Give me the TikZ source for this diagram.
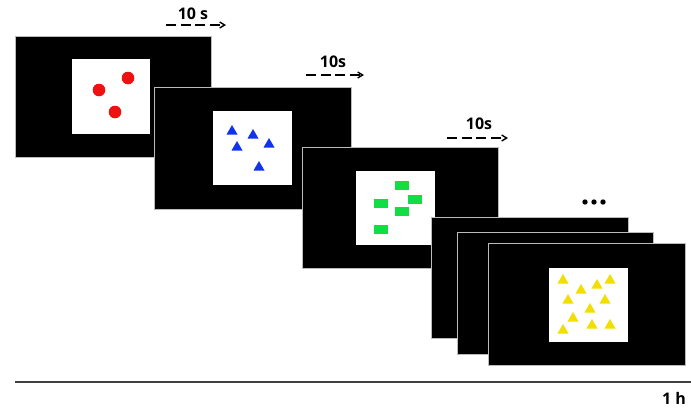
\documentclass[tikz,border=0pt]{standalone}
\usepackage{fontspec}
\setmainfont{Open Sans}
\usetikzlibrary{arrows.meta}
\definecolor{dotred}{HTML}{EE1111}
\definecolor{triblue}{HTML}{1133EE}
\definecolor{recgreen}{HTML}{11DD44}
\definecolor{triyel}{HTML}{F2DE00}
\definecolor{edgegray}{HTML}{BBBBBB}
\tikzset{
  screen/.style={fill=black, draw=edgegray, line width=0.8pt},
  panel/.style={fill=white, draw=none},
  lbl/.style={font=\bfseries\fontsize{16}{16}\selectfont, inner sep=0pt},
  timearrow/.style={line width=1.4pt, dash pattern=on 10pt off 4.5pt, -{Straight Barb[length=5pt,width=6pt]}},
  reddot/.style={fill=dotred, draw=none},
  btri/.style={fill=triblue, draw=none},
  grect/.style={fill=recgreen, draw=none},
  ytri/.style={fill=triyel, draw=none},
}
\newcommand{\tri}[3]{\fill[#1] (#2-5.5,#3+4.5) -- (#2+5.5,#3+4.5) -- (#2,#3-5) -- cycle;}
\newcommand{\grn}[2]{\fill[grect] (#1-7,#2-4.5) rectangle (#1+7,#2+4.5);}
\begin{document}
\begin{tikzpicture}[x=1pt,y=-1pt]
\useasboundingbox (0,0) rectangle (691,410);
% screen 1
\draw[screen] (15,36) rectangle (211,157);
\fill[panel] (72,59) rectangle (150,134);
\fill[reddot] (99,90) circle (6.3);
\fill[reddot] (128,78) circle (6.3);
\fill[reddot] (115,112) circle (6.3);
% screen 2
\draw[screen] (154,87) rectangle (351,209);
\fill[panel] (213,111) rectangle (292,185);
\tri{btri}{232}{130}
\tri{btri}{253}{134}
\tri{btri}{237}{146}
\tri{btri}{269}{143}
\tri{btri}{259}{166}
% screen 3
\draw[screen] (302,147) rectangle (498,268);
\fill[panel] (356,171) rectangle (435,245);
\grn{402}{185}
\grn{381}{203}
\grn{415}{199}
\grn{402}{211}
\grn{381}{229}
% stack
\draw[screen] (431,217) rectangle (628,338);
\draw[screen] (457,232) rectangle (653,354);
\draw[screen] (488,243) rectangle (685,365);
\fill[panel] (549,268) rectangle (628,342);
\tri{ytri}{563}{279}
\tri{ytri}{581}{289}
\tri{ytri}{597}{284}
\tri{ytri}{610}{279}
\tri{ytri}{568}{299}
\tri{ytri}{605}{299}
\tri{ytri}{590}{308}
\tri{ytri}{573}{317}
\tri{ytri}{563}{329}
\tri{ytri}{592}{324}
\tri{ytri}{610}{324}
% ellipsis dots
\fill (585,202) circle (2.7);
\fill (594,202) circle (2.7);
\fill (603,202) circle (2.7);
% labels and arrows
\node[lbl] (l1) at (193,14) {10 s};
\coordinate (a1s) at (166,25); \coordinate (a1e) at (226,25);
\draw[timearrow] (a1s) -- (a1e);
\node[lbl] (l2) at (333,62) {10s};
\coordinate (a2s) at (306,75); \coordinate (a2e) at (364,75);
\draw[timearrow] (a2s) -- (a2e);
\node[lbl] (l3) at (479,124) {10s};
\coordinate (a3s) at (447,138); \coordinate (a3e) at (508,138);
\draw[timearrow] (a3s) -- (a3e);
% timeline
\coordinate (t0) at (15,382); \coordinate (t1) at (691,382);
\draw[line width=1.2pt, black!75] (t0) -- (t1);
\node[lbl, anchor=east] (h) at (686,398) {1 h};
\end{tikzpicture}
\end{document}
